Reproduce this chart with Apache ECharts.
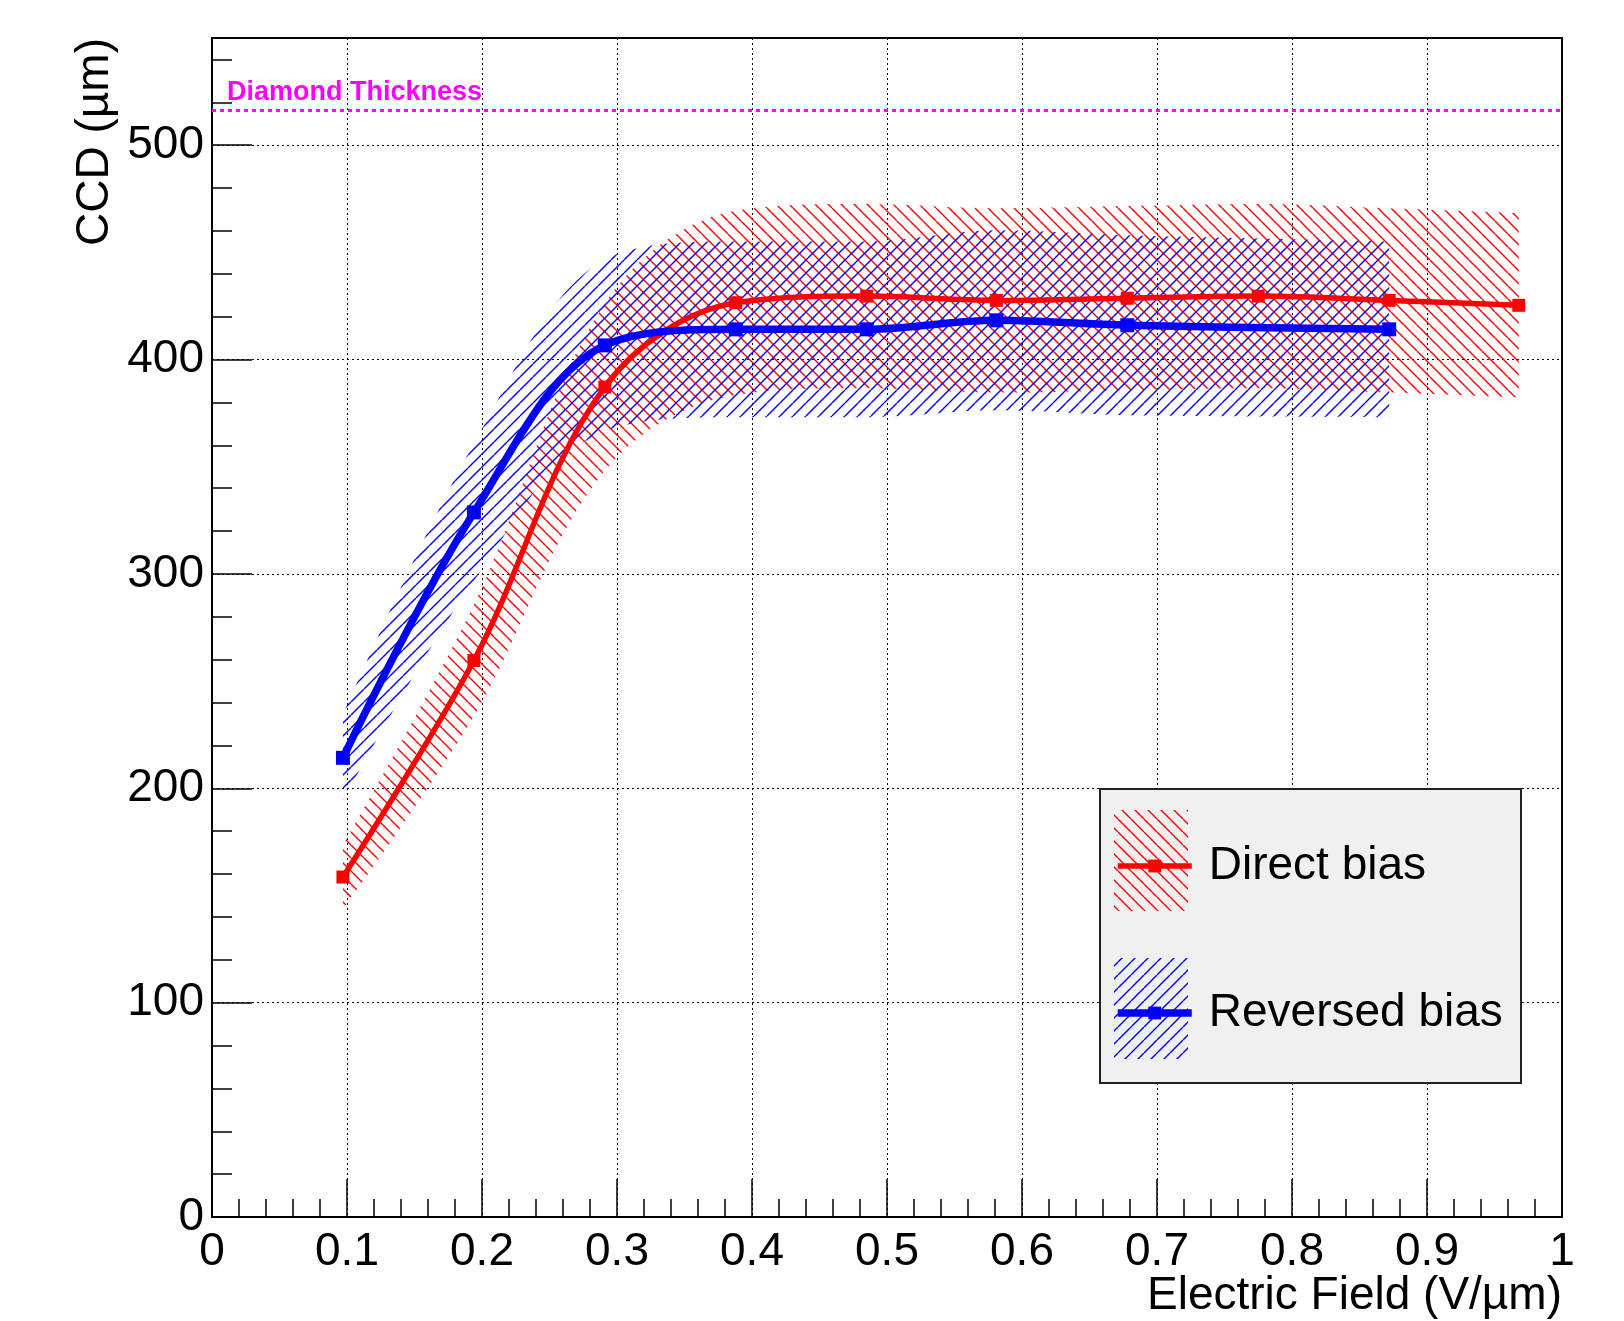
<!DOCTYPE html>
<html lang="en">
<head>
<meta charset="utf-8">
<title>CCD vs Electric Field</title>
<script src="https://cdn.jsdelivr.net/npm/echarts@6/dist/echarts.min.js"></script>
<style>
    html, body { margin: 0; padding: 0; background: #fff; }
    #main { width: 1624px; height: 1321px; }
</style>
</head>
<body>
<div id="main"></div>
<script>
    // Direct bias (red)
    var directField = [0.097, 0.194, 0.291, 0.388, 0.485, 0.581, 0.678, 0.775, 0.872, 0.968];
    var directCCD   = [158.6, 259.6, 387.2, 426.5, 429.6, 427.6, 428.6, 429.6, 427.6, 425.3];
    var directErr   = [15, 26, 39, 43, 43, 43, 43, 43, 43, 43];

    // Reversed bias (blue)
    var reversedField = [0.097, 0.194, 0.291, 0.388, 0.485, 0.581, 0.678, 0.872];
    var reversedCCD   = [214.2, 328.7, 406.6, 414.1, 414.1, 418.3, 416.0, 414.1];
    var reversedErr   = [20, 32, 40, 41, 41, 42, 42, 41];

    var diamondThickness = 516.5;
    var legendNames = ['Direct bias', 'Reversed bias'];

    var FONT = '"Liberation Sans", Arial, sans-serif';
    var SMOOTH = 0.35;

    // hatch pattern like ROOT fill styles 3004 / 3005
    function hatch(color, dir) {
        var s = 13;
        var c = document.createElement('canvas');
        c.width = s; c.height = s;
        var g = c.getContext('2d');
        g.strokeStyle = color;
        g.lineWidth = 1.4;
        for (var k = -1; k <= 1; k++) {
            g.beginPath();
            if (dir === '\\') { g.moveTo(0, k * s); g.lineTo(s, s + k * s); }
            else { g.moveTo(0, s + k * s); g.lineTo(s, k * s); }
            g.stroke();
        }
        return { image: c, repeat: 'repeat' };
    }
    var redHatch = hatch('#ff0000', '\\');
    var blueHatch = hatch('#0000ff', '/');

    function pairs(xs, ys) {
        return xs.map(function (x, i) { return [x, ys[i]]; });
    }
    // [y, x] order so that the stacked dimension is y
    function pairsYX(xs, ys) {
        return xs.map(function (x, i) { return [ys[i], x]; });
    }

    // error band = invisible lower edge + stacked width with hatched area
    function band(id, xs, ys, errs, pattern) {
        var low = ys.map(function (y, i) { return y - errs[i]; });
        var width = errs.map(function (e) { return 2 * e; });
        return [
            {
                type: 'line', name: id + '_low', stack: id, smooth: SMOOTH, symbol: 'none',
                data: pairsYX(xs, low), encode: { x: 1, y: 0 },
                lineStyle: { opacity: 0 }, silent: true, z: 1
            },
            {
                type: 'line', name: id + '_band', stack: id, smooth: SMOOTH, symbol: 'none',
                data: pairsYX(xs, width), encode: { x: 1, y: 0 },
                lineStyle: { opacity: 0 },
                areaStyle: { color: pattern, opacity: 1 }, silent: true, z: 1
            }
        ];
    }

    var chart = echarts.init(document.getElementById('main'));

    var option = {
        animation: false,
        textStyle: { fontFamily: FONT },
        grid: {
            left: 212, right: 62, top: 38, bottom: 104,
            show: true, borderColor: '#000', borderWidth: 2,
            outerBoundsMode: 'none'
        },
        legend: {
            data: [
                { name: legendNames[0], lineStyle: { width: 5.5 } },
                { name: legendNames[1], lineStyle: { width: 7.5 } }
            ],
            orient: 'vertical',
            left: 1114, top: 843,
            itemWidth: 74, itemHeight: 16, itemGap: 101,
            padding: 0,
            selectedMode: false,
            textStyle: { fontSize: 46, color: '#000', fontFamily: FONT, padding: [0, 0, 0, 12] },
            z: 30
        },
        graphic: [
            { type: 'rect', z: 20, shape: { x: 1100, y: 789, width: 421, height: 294 },
              style: { fill: '#f0f0f0', stroke: '#222', lineWidth: 2 } },
            { type: 'rect', z: 21, shape: { x: 1114, y: 810, width: 74, height: 101 },
              style: { fill: redHatch } },
            { type: 'rect', z: 21, shape: { x: 1114, y: 958, width: 74, height: 101 },
              style: { fill: blueHatch } }
        ],
        xAxis: {
            type: 'value', min: 0, max: 1, interval: 0.1,
            name: 'Electric Field (V/\u00b5m)',
            nameLocation: 'end', nameGap: 0, nameMoveOverlap: false,
            nameTextStyle: { fontSize: 46, color: '#000', align: 'right', verticalAlign: 'top',
                             padding: [56, 0, 0, 0], fontFamily: FONT },
            axisLine: { show: true, lineStyle: { color: '#000', width: 2 } },
            axisTick: { inside: true, length: 38, lineStyle: { color: '#000', width: 1.5 } },
            minorTick: { show: true, splitNumber: 5, length: 18, lineStyle: { color: '#000', width: 1.5 } },
            axisLabel: { fontSize: 46, color: '#000', margin: 12, fontFamily: FONT },
            splitLine: { show: true, lineStyle: { color: '#000', width: 1, type: [2, 3] } }
        },
        yAxis: [
            {
                type: 'value', min: 0, max: 550, interval: 100, position: 'left',
                name: 'CCD (\u00b5m)',
                nameLocation: 'end', nameGap: 0, nameRotate: 90, nameMoveOverlap: false,
                nameTextStyle: { fontSize: 46, color: '#000', align: 'right', verticalAlign: 'bottom',
                                 padding: [0, 0, 94, 0], fontFamily: FONT },
                axisLine: { show: true, lineStyle: { color: '#000', width: 2 } },
                axisTick: { inside: true, length: 40, lineStyle: { color: '#000', width: 1.5 } },
                axisLabel: {
                    fontSize: 46, color: '#000', margin: 8, fontFamily: FONT,
                    formatter: function (v) { return v > 500 ? '' : v; }
                },
                splitLine: { show: true, lineStyle: { color: '#000', width: 1, type: [2, 3] } }
            },
            {
                // minor ticks every 20
                type: 'value', min: 0, max: 550, interval: 20, position: 'left',
                axisLine: { show: false },
                axisTick: { show: true, inside: true, length: 20, lineStyle: { color: '#000', width: 1.5 } },
                axisLabel: { show: false },
                splitLine: { show: false }
            }
        ],
        series: [].concat(
            band('direct', directField, directCCD, directErr, redHatch),
            band('reversed', reversedField, reversedCCD, reversedErr, blueHatch),
            [
                {
                    type: 'line', name: 'Direct bias', data: pairs(directField, directCCD),
                    smooth: SMOOTH, symbol: 'rect', symbolSize: 13, showAllSymbol: true,
                    lineStyle: { color: '#ff0000', width: 5.5 },
                    itemStyle: { color: '#ff0000' },
                    z: 3,
                    markLine: {
                        silent: true, symbol: 'none',
                        lineStyle: { color: '#ff00ff', width: 3, type: [4, 4] },
                        label: {
                            show: true, position: 'insideStartTop', distance: [15, 4],
                            formatter: 'Diamond Thickness', color: '#ff00ff',
                            fontSize: 27, fontWeight: 'bold', fontFamily: FONT
                        },
                        data: [{ yAxis: diamondThickness }]
                    }
                },
                {
                    type: 'line', name: 'Reversed bias', data: pairs(reversedField, reversedCCD),
                    smooth: SMOOTH, symbol: 'rect', symbolSize: 14, showAllSymbol: true,
                    lineStyle: { color: '#0000ff', width: 7.5 },
                    itemStyle: { color: '#0000ff' },
                    z: 4
                }
            ]
        )
    };
    chart.setOption(option);
</script>
</body>
</html>
